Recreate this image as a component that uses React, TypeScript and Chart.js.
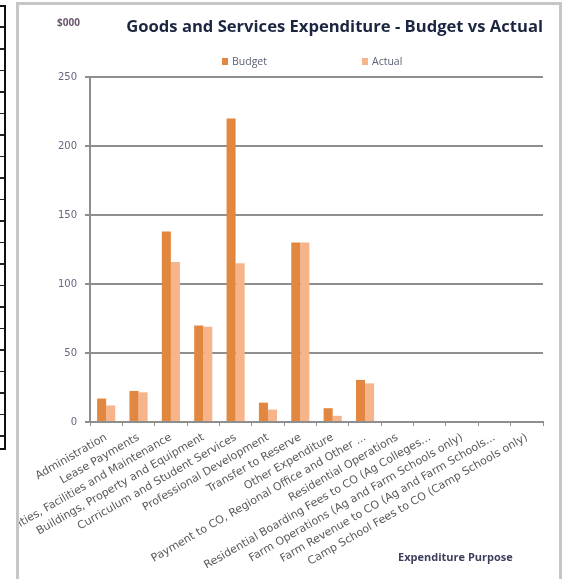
import React, { useEffect, useRef } from "react";
import { Chart, registerables } from "chart.js";

Chart.register(...registerables);

const categories: string[] = [
  "Administration",
  "Lease Payments",
  "Utilities, Facilities and Maintenance",
  "Buildings, Property and Equipment",
  "Curriculum and Student Services",
  "Professional Development",
  "Transfer to Reserve",
  "Other Expenditure",
  "Payment to CO, Regional Office and Other ...",
  "Residential Operations",
  "Residential Boarding Fees to CO (Ag Colleges...",
  "Farm Operations (Ag and Farm Schools only)",
  "Farm Revenue to CO (Ag and Farm Schools...",
  "Camp School Fees to CO (Camp Schools only)",
];

const budgetValues: number[] = [17, 22.5, 138, 70, 220, 14, 130, 10, 30.5, 0, 0, 0, 0, 0];
const actualValues: number[] = [12, 21.5, 116, 69, 115, 9, 130, 4.5, 28, 0, 0, 0, 0, 0];

const yTicks: number[] = [0, 50, 100, 150, 200, 250];

const titleText = "Goods and Services Expenditure - Budget vs Actual";
const unitText = "$000";
const xAxisTitle = "Expenditure Purpose";

const BUDGET_COLOR = "#E2873F";
const ACTUAL_COLOR = "#F7B48A";
const GRID_COLOR = "#8e8e8e";

const annotationPlugin = {
  id: "annotations",
  afterDraw(chart: any) {
    const ctx = chart.ctx;
    const area = chart.chartArea;
    ctx.save();
    // unit label
    ctx.font = "bold 10px 'Open Sans'";
    ctx.fillStyle = "#6b5870";
    ctx.textAlign = "left";
    ctx.textBaseline = "middle";
    ctx.fillText(unitText, area.left - 33, 18);

    // legend
    const ds = chart.data.datasets;
    const legendY = area.top - 15;
    const positions = [area.left + 132, area.left + 272];
    ctx.font = "10.5px 'Open Sans'";
    ds.forEach((d: any, i: number) => {
      const x = positions[i];
      ctx.fillStyle = d.backgroundColor;
      ctx.fillRect(x, legendY - 4, 6, 7);
      ctx.fillStyle = "#5a6275";
      ctx.fillText(d.label, x + 10, legendY);
    });

    // x axis title
    ctx.font = "bold 11px 'Open Sans'";
    ctx.fillStyle = "#3d3f5c";
    ctx.textAlign = "left";
    ctx.fillText(xAxisTitle, area.left + 308, 553);
    ctx.restore();
  },
};

export default function App() {
  const canvasRef = useRef<HTMLCanvasElement | null>(null);

  useEffect(() => {
    const canvas = canvasRef.current;
    if (!canvas) return;
    const chart = new Chart(canvas, {
      type: "bar",
      data: {
        labels: categories,
        datasets: [
          {
            label: "Budget",
            data: budgetValues,
            backgroundColor: BUDGET_COLOR,
            categoryPercentage: 0.56,
            barPercentage: 1,
          },
          {
            label: "Actual",
            data: actualValues,
            backgroundColor: ACTUAL_COLOR,
            categoryPercentage: 0.56,
            barPercentage: 1,
          },
        ],
      },
      options: {
        animation: false,
        responsive: false,
        maintainAspectRatio: false,
        events: [],
        layout: { padding: { left: 20, right: 19, top: 0, bottom: 0 } },
        plugins: {
          legend: { display: false },
          tooltip: { enabled: false },
          title: {
            display: true,
            text: titleText,
            align: "end",
            color: "#1d2640",
            font: { family: "'Open Sans'", size: 16.6, weight: "bold" },
            padding: { top: 12, bottom: 40.08 },
          },
        },
        scales: {
          x: {
            grid: {
              drawOnChartArea: false,
              drawTicks: true,
              tickLength: 4,
              color: GRID_COLOR,
              lineWidth: 1,
            },
            border: { color: GRID_COLOR, width: 2 },
            ticks: {
              autoSkip: false,
              minRotation: 30,
              maxRotation: 30,
              padding: 5,
              color: "#595959",
              font: { family: "'DejaVu Sans'", size: 11 },
            },
            afterFit: (scale: any) => {
              scale.height = 157;
            },
          },
          y: {
            min: 0,
            max: 250,
            afterBuildTicks: (scale: any) => {
              scale.ticks = yTicks.map((v) => ({ value: v }));
            },
            grid: {
              color: GRID_COLOR,
              lineWidth: 2,
              tickLength: 5,
            },
            border: { color: GRID_COLOR, width: 2 },
            ticks: {
              padding: 8,
              color: "#6a6680",
              font: { family: "'DejaVu Sans'", size: 10 },
            },
            afterFit: (scale: any) => {
              scale.width = 51;
            },
          },
        },
      },
      plugins: [annotationPlugin],
    });
    return () => chart.destroy();
  }, []);

  return (
    <div style={{ position: "fixed", left: 0, top: 0, width: 570, height: 579, overflow: "hidden", background: "#fff" }}>
      <div
        style={{
          position: "absolute",
          left: 0,
          top: 5,
          width: 6,
          height: 445,
          boxSizing: "border-box",
          borderTop: "2px solid #111",
          borderBottom: "2px solid #111",
          borderRight: "2px solid #111",
          backgroundImage:
            "repeating-linear-gradient(to bottom, transparent 0px, transparent 19.5px, #222 19.5px, #222 21.5px)",
        }}
      />
      <div
        style={{
          position: "absolute",
          left: 16,
          top: 2,
          width: 546,
          height: 620,
          boxSizing: "border-box",
          border: "3px solid #c6c6c6",
        }}
      />
      <canvas
        ref={canvasRef}
        width={543}
        height={574}
        style={{ position: "absolute", left: 19, top: 5, width: 543, height: 574 }}
      />
    </div>
  );
}
